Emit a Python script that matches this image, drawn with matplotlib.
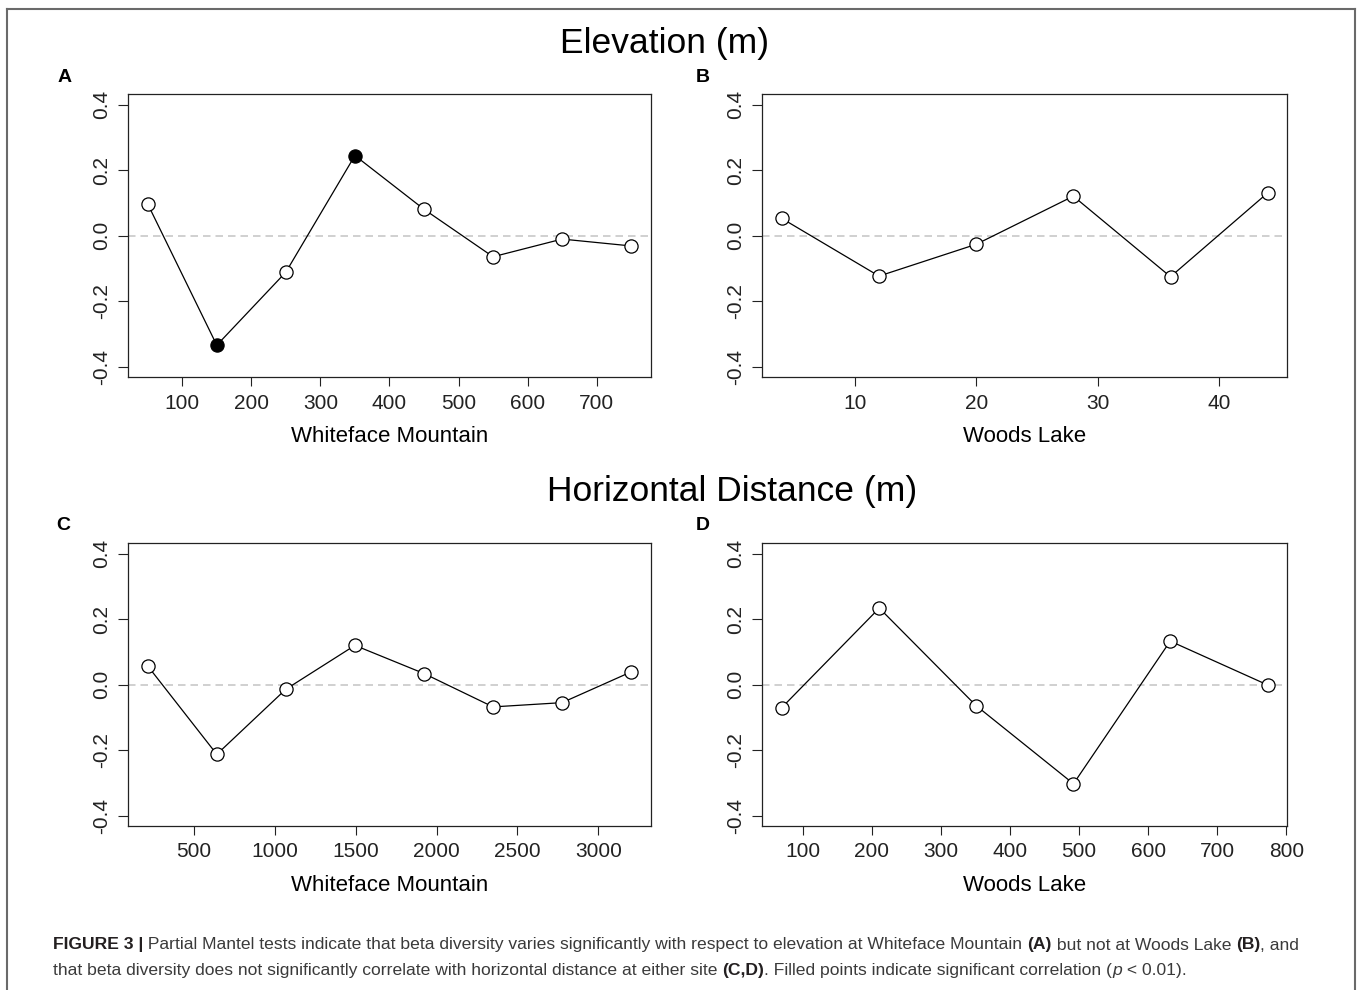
import matplotlib
matplotlib.use('Agg')
import matplotlib.pyplot as plt
from matplotlib.lines import Line2D

plt.rcParams['font.family'] = ['Liberation Sans', 'DejaVu Sans']

# Data
wf_elev_x = [50, 150, 250, 350, 450, 550, 650, 750]
wf_elev_y = [0.097, -0.334, -0.111, 0.245, 0.081, -0.064, -0.010, -0.031]
wf_elev_sig = [False, True, False, True, False, False, False, False]

wl_elev_x = [4, 12, 20, 28, 36, 44]
wl_elev_y = [0.053, -0.123, -0.026, 0.121, -0.125, 0.131]
wl_elev_sig = [False, False, False, False, False, False]

wf_dist_x = [214, 641, 1068, 1495, 1922, 2349, 2776, 3203]
wf_dist_y = [0.057, -0.213, -0.014, 0.120, 0.034, -0.068, -0.055, 0.039]
wf_dist_sig = [False] * 8

wl_dist_x = [70, 211, 351, 492, 632, 773]
wl_dist_y = [-0.070, 0.234, -0.064, -0.303, 0.133, -0.001]
wl_dist_sig = [False] * 6

y_ticks = [-0.4, -0.2, 0.0, 0.2, 0.4]
xticks_a = [100, 200, 300, 400, 500, 600, 700]
xticks_b = [10, 20, 30, 40]
xticks_c = [500, 1000, 1500, 2000, 2500, 3000]
xticks_d = [100, 200, 300, 400, 500, 600, 700, 800]

W, H = 1357, 990
fig = plt.figure(figsize=(W / 100, H / 100), dpi=100)


def px_axes(left, top, right, bottom):
    return fig.add_axes([left / W, 1 - bottom / H, (right - left) / W, (bottom - top) / H])


def panel(ax, x, y, sig, xticks, xlabel):
    ax.axhline(0, color='#c8c8c8', lw=1.2, ls=(0, (4.5, 3)), zorder=1)
    ax.plot(x, y, color='black', lw=0.9, zorder=2)
    for xi, yi, s in zip(x, y, sig):
        ax.plot(xi, yi, 'o', ms=9.5, mec='black', mew=0.9,
                mfc='black' if s else 'white', zorder=3)
    ax.margins(x=0.04)
    ax.set_ylim(-0.432, 0.432)
    ax.set_yticks(y_ticks)
    ax.set_yticklabels([f'{t:.1f}' for t in y_ticks], rotation=90, va='center', fontsize=15)
    ax.set_xticks(xticks)
    ax.set_xticklabels([str(t) for t in xticks], fontsize=15)
    ax.tick_params(direction='out', width=0.8, colors='#222222')
    ax.tick_params(axis='x', length=6.7, pad=5)
    ax.tick_params(axis='y', length=7.2, pad=5.5)
    for sp in ax.spines.values():
        sp.set_linewidth(0.9)
        sp.set_color('#222222')
    ax.set_xlabel(xlabel, fontsize=16, labelpad=10)


ax_a = px_axes(128.4, 94.3, 650.5, 377.3)
ax_b = px_axes(762.4, 94.3, 1287.1, 377.3)
ax_c = px_axes(128.4, 543.3, 650.5, 826)
ax_d = px_axes(762.4, 543.3, 1287.1, 826)

panel(ax_a, wf_elev_x, wf_elev_y, wf_elev_sig, xticks_a, 'Whiteface Mountain')
panel(ax_b, wl_elev_x, wl_elev_y, wl_elev_sig, xticks_b, 'Woods Lake')
panel(ax_c, wf_dist_x, wf_dist_y, wf_dist_sig, xticks_c, 'Whiteface Mountain')
panel(ax_d, wl_dist_x, wl_dist_y, wl_dist_sig, xticks_d, 'Woods Lake')

# Section titles and panel letters
fig.text(665 / W, 1 - 43 / H, 'Elevation (m)', fontsize=25.5, ha='center', va='center')
fig.text(732 / W, 1 - 492 / H, 'Horizontal Distance (m)', fontsize=25.5, ha='center', va='center')
for lbl, (px, py) in {'A': (65, 77), 'B': (703, 77), 'C': (63, 525), 'D': (703, 525)}.items():
    fig.text(px / W, 1 - py / H, lbl, fontsize=14, fontweight='bold', ha='center', va='center')

# Frame around the figure (open at the bottom)
frame_col = '#6a6a6a'
fig.add_artist(Line2D([7 / W, 7 / W], [0, 1 - 9 / H], color=frame_col, lw=1.5))
fig.add_artist(Line2D([7 / W, 1355 / W], [1 - 9 / H, 1 - 9 / H], color=frame_col, lw=1.5))
fig.add_artist(Line2D([1355 / W, 1355 / W], [0, 1 - 9 / H], color=frame_col, lw=1.5))

# Caption with mixed styles
cap_lines = [
    [('FIGURE 3 |', 'bold', 'normal'),
     (' Partial Mantel tests indicate that beta diversity varies significantly with respect to elevation at Whiteface Mountain ', 'normal', 'normal'),
     ('(A)', 'bold', 'normal'),
     (' but not at Woods Lake ', 'normal', 'normal'),
     ('(B)', 'bold', 'normal'),
     (', and', 'normal', 'normal')],
    [('that beta diversity does not significantly correlate with horizontal distance at either site ', 'normal', 'normal'),
     ('(C,D)', 'bold', 'normal'),
     ('. Filled points indicate significant correlation (', 'normal', 'normal'),
     ('p', 'normal', 'italic'),
     (' < 0.01).', 'normal', 'normal')],
]
renderer = fig.canvas.get_renderer()
for i, segs in enumerate(cap_lines):
    x = 53
    y = 945 + 25 * i
    for txt, wt, st in segs:
        t = fig.text(x / W, 1 - y / H, txt, fontsize=12.6, fontweight=wt, fontstyle=st,
                     ha='left', va='center',
                     color='#231f20' if wt == 'bold' else '#3a3a3a')
        x += t.get_window_extent(renderer).width

fig.savefig('out.png', dpi=100)
